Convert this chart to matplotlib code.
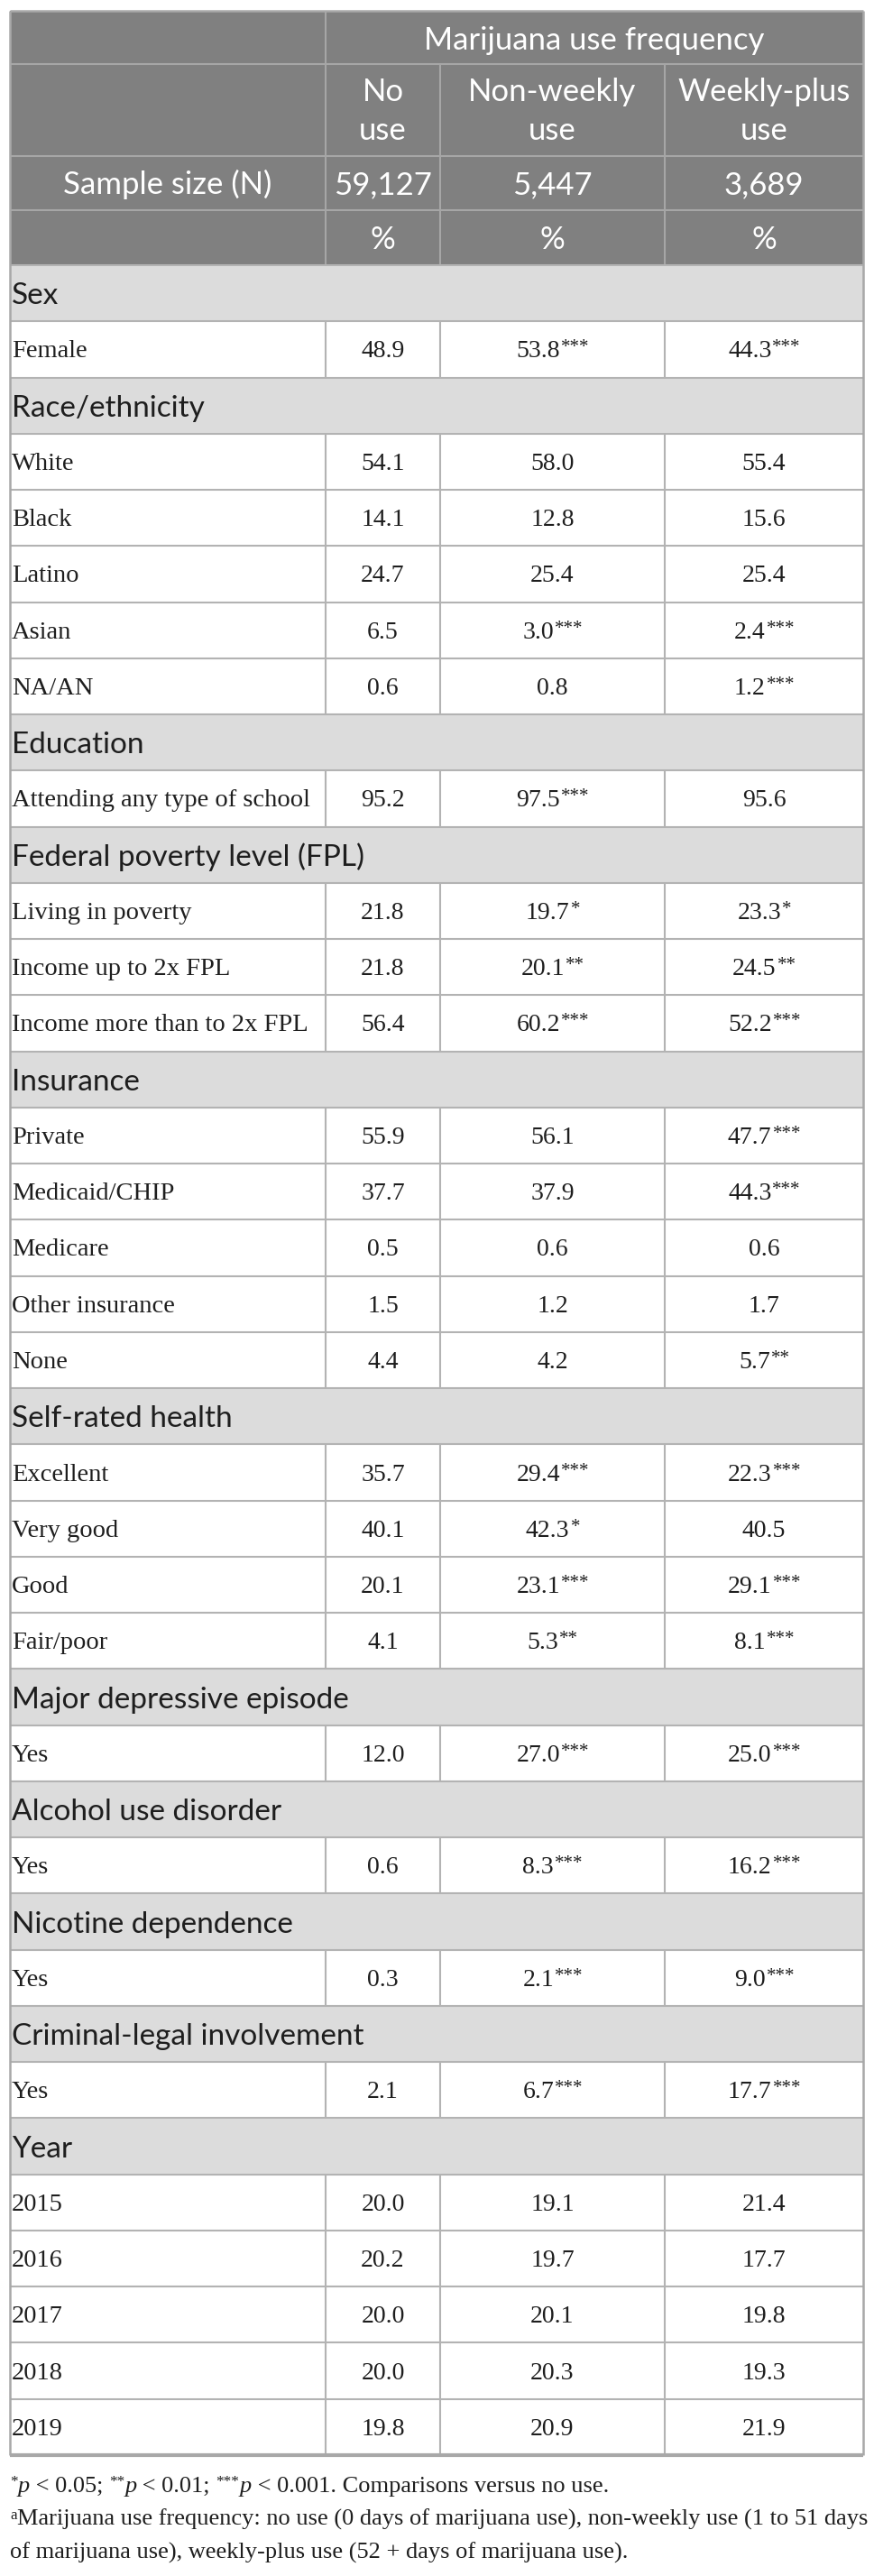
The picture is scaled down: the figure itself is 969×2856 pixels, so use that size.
import matplotlib.pyplot as plt
from matplotlib.patches import Rectangle

# header content
header_title = 'Marijuana use frequency'
group_labels = [('No', 'use'), ('Non-weekly', 'use'), ('Weekly-plus', 'use')]
sample_sizes = ['59,127', '5,447', '3,689']

# table rows (None = section heading row)
row_labels = ['Sex', 'Female',
              'Race/ethnicity', 'White', 'Black', 'Latino', 'Asian', 'NA/AN',
              'Education', 'Attending any type of school',
              'Federal poverty level (FPL)', 'Living in poverty', 'Income up to 2x FPL',
              'Income more than to 2x FPL',
              'Insurance', 'Private', 'Medicaid/CHIP', 'Medicare', 'Other insurance', 'None',
              'Self-rated health', 'Excellent', 'Very good', 'Good', 'Fair/poor',
              'Major depressive episode', 'Yes',
              'Alcohol use disorder', 'Yes',
              'Nicotine dependence', 'Yes',
              'Criminal-legal involvement', 'Yes',
              'Year', '2015', '2016', '2017', '2018', '2019']
no_use = [None, 48.9,
          None, 54.1, 14.1, 24.7, 6.5, 0.6,
          None, 95.2,
          None, 21.8, 21.8, 56.4,
          None, 55.9, 37.7, 0.5, 1.5, 4.4,
          None, 35.7, 40.1, 20.1, 4.1,
          None, 12.0,
          None, 0.6,
          None, 0.3,
          None, 2.1,
          None, 20.0, 20.2, 20.0, 20.0, 19.8]
non_weekly = [None, 53.8,
              None, 58.0, 12.8, 25.4, 3.0, 0.8,
              None, 97.5,
              None, 19.7, 20.1, 60.2,
              None, 56.1, 37.9, 0.6, 1.2, 4.2,
              None, 29.4, 42.3, 23.1, 5.3,
              None, 27.0,
              None, 8.3,
              None, 2.1,
              None, 6.7,
              None, 19.1, 19.7, 20.1, 20.3, 20.9]
non_weekly_sig = ['', '***',
                  '', '', '', '', '***', '',
                  '', '***',
                  '', '*', '**', '***',
                  '', '', '', '', '', '',
                  '', '***', '*', '***', '**',
                  '', '***',
                  '', '***',
                  '', '***',
                  '', '***',
                  '', '', '', '', '', '']
weekly_plus = [None, 44.3,
               None, 55.4, 15.6, 25.4, 2.4, 1.2,
               None, 95.6,
               None, 23.3, 24.5, 52.2,
               None, 47.7, 44.3, 0.6, 1.7, 5.7,
               None, 22.3, 40.5, 29.1, 8.1,
               None, 25.0,
               None, 16.2,
               None, 9.0,
               None, 17.7,
               None, 21.4, 17.7, 19.8, 19.3, 21.9]
weekly_plus_sig = ['', '***',
                   '', '', '', '', '***', '***',
                   '', '',
                   '', '*', '**', '***',
                   '', '***', '***', '', '', '**',
                   '', '***', '', '***', '***',
                   '', '***',
                   '', '***',
                   '', '***',
                   '', '***',
                   '', '', '', '', '', '']

# footnote runs: n = normal, i = italic, s = superscript
footnote_lines = [
    [('*', 's'), ('p', 'i'), (' < 0.05; ', 'n'), ('**', 's'), ('p', 'i'), (' < 0.01; ', 'n'),
     ('***', 's'), ('p', 'i'), (' < 0.001. Comparisons versus no use.', 'n')],
    [('a', 's'), ('Marijuana use frequency: no use (0 days of marijuana use), non-weekly use (1 to 51 days', 'n')],
    [('of marijuana use), weekly-plus use (52 + days of marijuana use).', 'n')],
]

# layout (pixels)
col_x = [11, 361, 488, 737, 957]
header_y = [12, 71, 173, 233, 294]
table_bottom = 2722
row_h = (table_bottom - header_y[-1]) / len(row_labels)

header_bg = '#808080'
section_bg = '#dcdcdc'
line_col = '#b3b3b3'
text_col = '#1e1e1e'
sans = 'Lato'
serif = 'Liberation Serif'

fig = plt.figure(figsize=(9.7, 28.56), dpi=100)
ax = fig.add_axes([0, 0, 1, 1])
ax.set_xlim(0, 970)
ax.set_ylim(2856, 0)
ax.axis('off')
renderer = fig.canvas.get_renderer()


def hline(y, x0=col_x[0], x1=col_x[-1], lw=1.5, c=line_col):
    ax.plot([x0, x1], [y, y], color=c, lw=lw, solid_capstyle='butt', zorder=3)


def vline(x, y0, y1, lw=1.5, c=line_col):
    ax.plot([x, x], [y0, y1], color=c, lw=lw, solid_capstyle='butt', zorder=3)


def width_of(t):
    return t.get_window_extent(renderer).width


def value_cell(xc, y, num, sig, size=20):
    # number with superscript stars, centred as one string
    t_num = ax.text(xc, y, num, family=serif, fontsize=size, color=text_col,
                    ha='left', va='baseline', zorder=4)
    w_num = width_of(t_num)
    w_sig = 0
    t_sig = None
    if sig:
        t_sig = ax.text(xc, y - 6, sig, family=serif, fontsize=15, color=text_col,
                        ha='left', va='baseline', zorder=4)
        w_sig = width_of(t_sig)
    left = xc - (w_num + w_sig) / 2
    t_num.set_x(left)
    if t_sig is not None:
        t_sig.set_x(left + w_num + 1)


def draw_runs(x, y, runs, size):
    for s, kind in runs:
        if kind == 's':
            t = ax.text(x, y - 7, s, family=serif, fontsize=size * 0.65, color=text_col,
                        ha='left', va='baseline')
        elif kind == 'i':
            t = ax.text(x, y, s, family=serif, style='italic', fontsize=size, color=text_col,
                        ha='left', va='baseline')
        else:
            t = ax.text(x, y, s, family=serif, fontsize=size, color=text_col,
                        ha='left', va='baseline')
        x += width_of(t)


# header block
ax.add_patch(Rectangle((col_x[0], header_y[0]), col_x[-1] - col_x[0], header_y[-1] - header_y[0],
                       facecolor=header_bg, edgecolor='none', zorder=1))
centers = [(col_x[i] + col_x[i + 1]) / 2 for i in range(4)]
ax.text((col_x[1] + col_x[-1]) / 2, 55, header_title, family=sans, fontsize=25,
        color='white', ha='center', va='baseline', zorder=4)
for i, (l1, l2) in enumerate(group_labels):
    ax.text(centers[i + 1], 112, l1, family=sans, fontsize=25, color='white',
            ha='center', va='baseline', zorder=4)
    ax.text(centers[i + 1], 155, l2, family=sans, fontsize=25, color='white',
            ha='center', va='baseline', zorder=4)
ax.text(centers[0], 215, 'Sample size (N)', family=sans, fontsize=25, color='white',
        ha='center', va='baseline', zorder=4)
for i, n in enumerate(sample_sizes):
    ax.text(centers[i + 1], 215, n, family=sans, fontsize=25, color='white',
            ha='center', va='baseline', zorder=4)
    ax.text(centers[i + 1], 276, '%', family=sans, fontsize=25, color='white',
            ha='center', va='baseline', zorder=4)

for y in header_y[1:-1]:
    hline(y, c='#a6a6a6')
vline(col_x[1], header_y[0], header_y[1], c='#a6a6a6')
for x in col_x[1:4]:
    vline(x, header_y[1], header_y[-1], c='#a6a6a6')

# body rows
for i, label in enumerate(row_labels):
    y0 = header_y[-1] + i * row_h
    yc = y0 + row_h / 2
    if no_use[i] is None:
        ax.add_patch(Rectangle((col_x[0], y0), col_x[-1] - col_x[0], row_h,
                               facecolor=section_bg, edgecolor='none', zorder=1))
        ax.text(col_x[0] + 2, yc + 12, label, family=sans, fontsize=24, color=text_col,
                ha='left', va='baseline', zorder=4)
    else:
        ax.text(col_x[0] + 2, yc + 9, label, family=serif, fontsize=20.5, color=text_col,
                ha='left', va='baseline', zorder=4)
        vals = [(no_use[i], ''), (non_weekly[i], non_weekly_sig[i]),
                (weekly_plus[i], weekly_plus_sig[i])]
        for j, (v, sig) in enumerate(vals):
            value_cell(centers[j + 1], yc + 9, f'{v:.1f}', sig)
        for x in col_x[1:4]:
            vline(x, y0, y0 + row_h)
    hline(y0)

# outer frame
hline(header_y[0], lw=1.8, c='#a8a8a8')
hline(table_bottom, lw=3, c='#a8a8a8')
vline(col_x[0], header_y[0], table_bottom, lw=1.8, c='#a8a8a8')
vline(col_x[-1], header_y[0], table_bottom, lw=1.8, c='#a8a8a8')

# footnotes
for k, runs in enumerate(footnote_lines):
    draw_runs(col_x[0], 2763 + k * 37, runs, 19)

fig.savefig('out.png', dpi=100)
